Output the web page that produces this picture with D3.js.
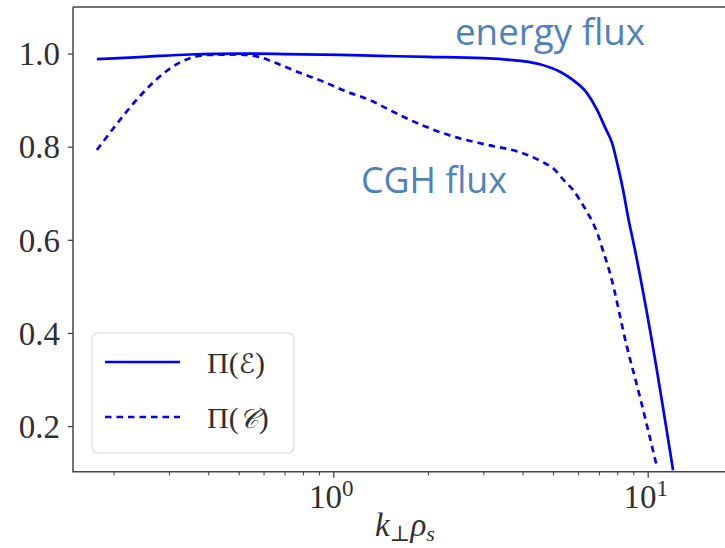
<!DOCTYPE html>
<html><head><meta charset="utf-8">
<script src="https://cdn.jsdelivr.net/npm/d3@7"></script>
<style>body{margin:0;background:#fff}svg{display:block}</style>
</head><body>
<svg id="c" width="725" height="548"></svg>
<script>
const energyK = [0.177, 0.25, 0.35, 0.5, 0.7, 1.05, 1.4, 2.0, 3.0, 3.57, 4.54, 5.26, 5.79, 6.41, 6.90, 7.31, 7.70, 8.05, 8.35, 8.66, 9.11, 10.17, 12.04];
const energyFlux = [0.988, 0.993, 0.998, 1.0, 0.999, 0.997, 0.995, 0.993, 0.990, 0.987, 0.977, 0.961, 0.943, 0.915, 0.879, 0.842, 0.808, 0.756, 0.707, 0.649, 0.578, 0.406, 0.105];
const cghK = [0.177, 0.35, 0.4, 0.5, 0.58, 0.643, 0.767, 0.927, 1.105, 1.328, 1.439, 1.887, 2.403, 3.083, 3.925, 4.60, 5.07, 5.41, 5.79, 6.09, 6.41, 6.70, 6.95, 7.15, 7.59, 8.59, 9.45, 10.7];
const cghFlux = [0.793, 0.99, 0.997, 0.998, 0.993, 0.982, 0.961, 0.94, 0.918, 0.898, 0.886, 0.848, 0.822, 0.804, 0.788, 0.768, 0.75, 0.728, 0.707, 0.685, 0.66, 0.636, 0.61, 0.584, 0.528, 0.370, 0.262, 0.112];
const yTicks = [0.2, 0.4, 0.6, 0.8, 1.0];
const yTickLabels = ["0.2", "0.4", "0.6", "0.8", "1.0"];
const xMajor = [1, 10];
const xMajorExp = ["0", "1"];
const legendLabels = [["Π(", "ℰ", ")"], ["Π(", "𝒞", ")"]];
const annotations = ["energy flux", "CGH flux"];

const svg = d3.select("#c");
const L = 73, R = 737, T = 7, B = 471.7;
const x = d3.scaleLog().domain([0.1486, 19.23]).range([L, R]);
const y = d3.scaleLinear().domain([0.102, 1.1]).range([B, T]);

svg.append("defs").append("clipPath").attr("id", "clip")
  .append("rect").attr("x", L).attr("y", T).attr("width", R - L).attr("height", B - T);

const line = d3.line().x(d => x(d[0])).y(d => y(d[1])).curve(d3.curveMonotoneX);
const blue = "#0000ff";
const eData = energyK.map((k, i) => [k, energyFlux[i]]);
const cData = cghK.map((k, i) => [k, cghFlux[i]]);

const g = svg.append("g").attr("clip-path", "url(#clip)");
g.append("path").datum(eData).attr("d", line).attr("fill", "none").attr("stroke", blue).attr("stroke-width", 2.7);
g.append("path").datum(cData).attr("d", line).attr("fill", "none").attr("stroke", blue).attr("stroke-width", 2.7).attr("stroke-dasharray", "6.5,5");

// spines
const spine = "#444";
svg.append("path").attr("d", `M${L},${T}H${R + 5}M${L},${T}V${B}H${R + 5}`).attr("fill", "none").attr("stroke", spine).attr("stroke-width", 1.5);
svg.append("line").attr("x1", R).attr("x2", R).attr("y1", T).attr("y2", B).attr("stroke", spine).attr("stroke-width", 1.5);

// y axis
const yAxis = svg.append("g").attr("transform", `translate(${L},0)`)
  .call(d3.axisLeft(y).tickValues(yTicks).tickFormat((d, i) => yTickLabels[i]).tickSize(5).tickPadding(8));
yAxis.select(".domain").remove();
yAxis.selectAll("line").attr("stroke", spine).attr("stroke-width", 1.3);
yAxis.selectAll("text").attr("font-family", "'Liberation Serif', 'DejaVu Serif', serif").attr("font-size", 33).attr("fill", "#303030").attr("dy", "0.34em");

// x axis
const minor = [];
for (let d = 0.1; d < 100; d *= 10) for (let m = 2; m <= 9; m++) { const v = m * d; if (v > 0.1486 && v < 19.23) minor.push(v); }
const xg = svg.append("g").attr("transform", `translate(0,${B})`);
xg.call(d3.axisBottom(x).tickValues(minor).tickFormat("").tickSize(3.5));
xg.select(".domain").remove();
xg.selectAll("line").attr("stroke", spine).attr("stroke-width", 1.1);
const xg2 = svg.append("g").attr("transform", `translate(0,${B})`);
xg2.call(d3.axisBottom(x).tickValues(xMajor).tickFormat("").tickSize(6));
xg2.select(".domain").remove();
xg2.selectAll("line").attr("stroke", spine).attr("stroke-width", 1.3);
xMajor.forEach((v, i) => {
  const t = svg.append("text").attr("x", x(v) - 2).attr("y", B + 36).attr("text-anchor", "middle")
    .attr("font-family", "'Liberation Serif', 'DejaVu Serif', serif").attr("font-size", 33).attr("fill", "#303030");
  t.append("tspan").text("10");
  t.append("tspan").attr("font-size", 23).attr("dy", -12).text(xMajorExp[i]);
});

// x label
const xl = svg.append("text").attr("x", (L + R) / 2).attr("y", B + 64).attr("text-anchor", "middle")
  .attr("font-family", "'Liberation Serif', 'DejaVu Serif', serif").attr("font-size", 33).attr("fill", "#303030").attr("font-style", "italic");
xl.append("tspan").text("k");
xl.append("tspan").attr("font-size", 22).attr("dy", 5).attr("font-style", "normal").text("⊥");
xl.append("tspan").attr("dy", -5).text("ρ");
xl.append("tspan").attr("font-size", 22).attr("dy", 5).text("s");

// legend
svg.append("rect").attr("x", 92).attr("y", 333).attr("width", 202).attr("height", 120).attr("rx", 6)
  .attr("fill", "#fff").attr("stroke", "#dcdcdc").attr("stroke-width", 1.2);
const legY = [362, 417];
legY.forEach((ly, i) => {
  svg.append("line").attr("x1", 105).attr("x2", 180).attr("y1", ly).attr("y2", ly).attr("stroke", blue).attr("stroke-width", 2.7)
    .attr("stroke-dasharray", i === 1 ? "6.5,5" : null);
  const t = svg.append("text").attr("x", 207).attr("y", ly + 11).attr("font-family", "'Liberation Serif', 'DejaVu Serif', serif")
    .attr("font-size", 30).attr("fill", "#303030");
  t.append("tspan").text(legendLabels[i][0]);
  t.append("tspan").attr("font-family", "'DejaVu Sans', 'Noto Sans', sans-serif").attr("font-style", "italic").attr("font-size", 27).text(legendLabels[i][1]);
  t.append("tspan").text(legendLabels[i][2]);
});

// annotations
const annColor = "#4f81bd";
svg.append("text").attr("x", 455).attr("y", 45).attr("font-family", "'Open Sans', sans-serif").attr("font-size", 36).attr("fill", annColor)
  .attr("textLength", 190).attr("lengthAdjust", "spacingAndGlyphs").text(annotations[0]);
svg.append("text").attr("x", 361).attr("y", 193).attr("font-family", "'Open Sans', sans-serif").attr("font-size", 36).attr("fill", annColor)
  .attr("textLength", 146).attr("lengthAdjust", "spacingAndGlyphs").text(annotations[1]);
</script>
</body></html>
